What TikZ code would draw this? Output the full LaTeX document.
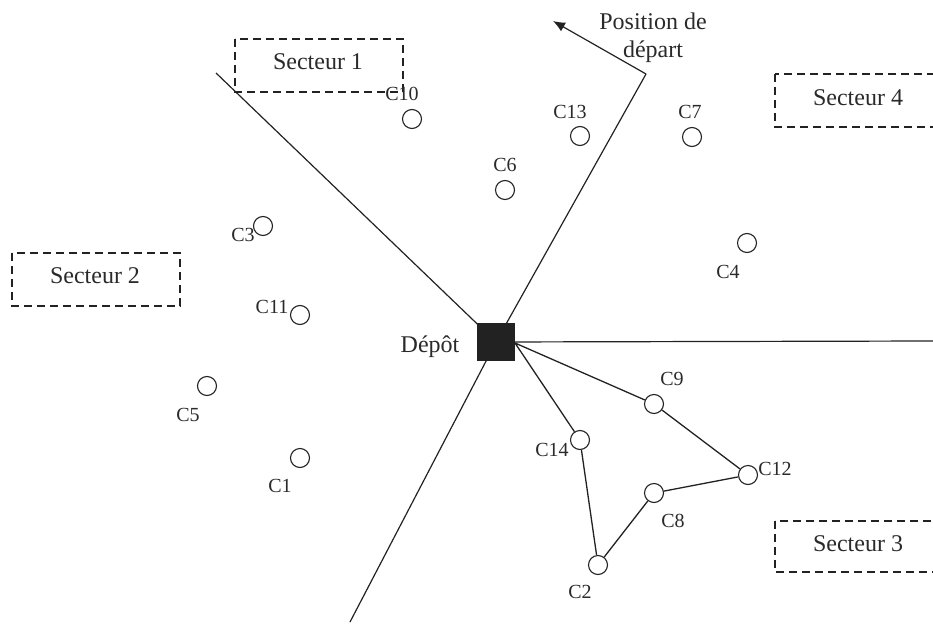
\documentclass[tikz,border=0pt]{standalone}
\usepackage{fontspec}
\setmainfont{Liberation Serif}
\usetikzlibrary{arrows.meta}
\definecolor{ink}{HTML}{222222}
\definecolor{txt}{HTML}{2a2a2a}
\tikzset{
  client/.style={circle,draw=ink,line width=1.1pt,minimum size=19pt,inner sep=0pt},
  clabel/.style={text=txt,font=\fontsize{20}{22}\selectfont,inner sep=0pt},
  big/.style={text=txt,font=\fontsize{24}{28}\selectfont,inner sep=0pt},
  sector/.style={draw=ink,dashed,dash pattern=on 8pt off 5pt,line width=1.1pt},
  edge/.style={draw=ink,line width=1.2pt},
  route/.style={draw=ink,line width=1.3pt}
}
\begin{document}
\begin{tikzpicture}[x=1pt,y=-1pt]
\useasboundingbox (0,0) rectangle (933,623);
\clip (0,0) rectangle (933,623);
% sector boxes
\draw[sector] (235,39) rectangle (403,92);
\draw[sector] (12,253) rectangle (180,306);
\draw[sector] (775,74) rectangle (945,127);
\draw[sector] (775,521) rectangle (945,572);
\node[big] (s1) at (318,62) {Secteur 1};
\node[big] (s2) at (95,276) {Secteur 2};
\node[big] (s4) at (858,98) {Secteur 4};
\node[big] (s3) at (858,544) {Secteur 3};
% depot coordinates and sector lines
\coordinate (dc) at (496,342);
\coordinate (l1) at (216,73);
\coordinate (bend) at (646,74);
\coordinate (bot) at (350,622);
\coordinate (right) at (933,341);
\coordinate (tip) at (553,21);
\draw[edge] (l1) -- (dc);
\draw[edge] (bend) -- (dc) -- (bot);
\draw[edge] (dc) -- (right);
\draw[edge,-{Latex[length=12pt,width=10pt]}] (bend) -- (tip);
\node[big,align=center] (pos) at (653,38) {Position de\\départ};
% clients
\node[client] (c10) at (412,119) {};
\node[client] (c13) at (580,136) {};
\node[client] (c6) at (505,190) {};
\node[client] (c7) at (692,137) {};
\node[client] (c4) at (747,243) {};
\node[client] (c3) at (263,226) {};
\node[client] (c11) at (300,315) {};
\node[client] (c5) at (207,386) {};
\node[client] (c1) at (300,458) {};
\node[client] (c9) at (654,404) {};
\node[client] (c14) at (580,440) {};
\node[client] (c12) at (748,475) {};
\node[client] (c8) at (654,493) {};
\node[client] (c2) at (598,565) {};
% depot
\node[fill=ink,draw=ink,minimum size=37pt,inner sep=0pt] (dep) at (dc) {};
\coordinate (dout) at (515,343);
% route
\draw[route] (dout) -- (c9) -- (c12) -- (c8) -- (c2) -- (c14) -- (dout);
% labels
\node[clabel] (t10) at (402,94) {C10};
\node[clabel] (t13) at (570,112) {C13};
\node[clabel] (t6) at (505,165) {C6};
\node[clabel] (t7) at (690,112) {C7};
\node[clabel] (t4) at (728,272) {C4};
\node[clabel] (t3) at (243,235) {C3};
\node[clabel] (t11) at (272,307) {C11};
\node[clabel] (t5) at (188,415) {C5};
\node[clabel] (t1) at (280,486) {C1};
\node[clabel] (t9) at (672,379) {C9};
\node[clabel] (t14) at (552,450) {C14};
\node[clabel] (t12) at (775,469) {C12};
\node[clabel] (t8) at (673,521) {C8};
\node[clabel] (t2) at (580,592) {C2};
\node[big] (tdep) at (430,347) {Dépôt};
\end{tikzpicture}
\end{document}
